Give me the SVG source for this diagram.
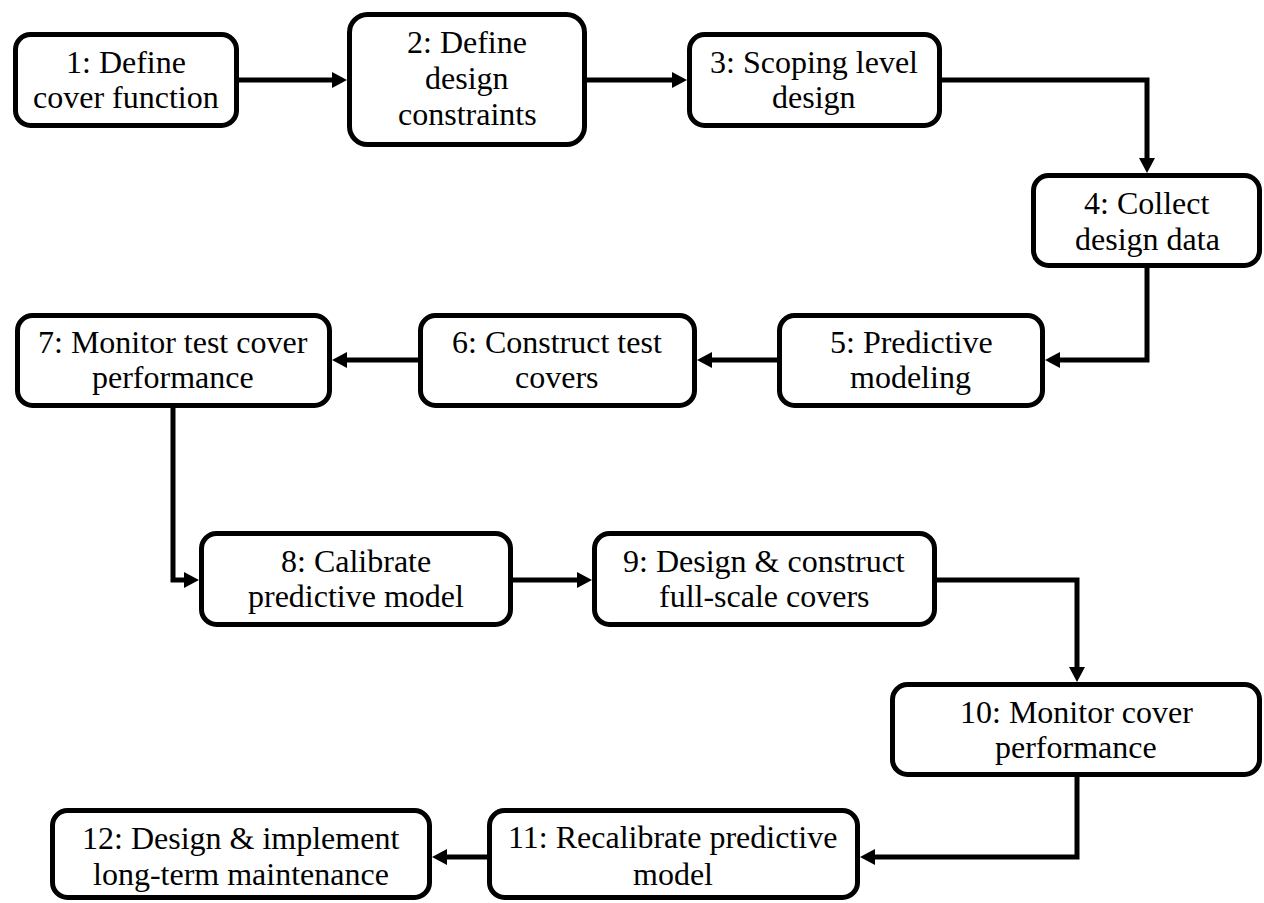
<svg xmlns="http://www.w3.org/2000/svg" width="1264" height="903" viewBox="0 0 1264 903">
<defs>
<marker id="ah" markerUnits="userSpaceOnUse" markerWidth="16" markerHeight="17" refX="5" refY="8" orient="auto" viewBox="0 0 16 17">
<path d="M0,0 L15,8 L0,16 z" fill="#000"/>
</marker>
</defs>
<rect width="1264" height="903" fill="#fff"/>
<g id="connectors" fill="none" stroke="#000" stroke-width="5" marker-end="url(#ah)">
<path d="M239,80 H337"/>
<path d="M587,80 H677"/>
<path d="M942,80 H1147 V163"/>
<path d="M1147,268 V360 H1055"/>
<path d="M777,360 H707"/>
<path d="M418,360 H342"/>
<path d="M173,408 V580 H189"/>
<path d="M513,580 H582"/>
<path d="M937,580 H1077 V672"/>
<path d="M1077,777 V857 H870"/>
<path d="M487,857 H442"/>
</g>
<g id="n1"><rect fill="#fff" stroke="#000" stroke-width="5" x="15.5" y="34.5" width="221" height="91" rx="15"/><text x="66" y="73" font-family="Liberation Serif" font-size="32">1: Define</text><text x="33" y="108" font-family="Liberation Serif" font-size="32">cover function</text></g>
<g id="n2"><rect fill="#fff" stroke="#000" stroke-width="5" x="349.5" y="14.5" width="235" height="130" rx="18"/><text x="407" y="53" font-family="Liberation Serif" font-size="32">2: Define</text><text x="425" y="89" font-family="Liberation Serif" font-size="32">design</text><text x="398" y="125" font-family="Liberation Serif" font-size="32">constraints</text></g>
<g id="n3"><rect fill="#fff" stroke="#000" stroke-width="5" x="689.5" y="34.5" width="250" height="91" rx="15"/><text x="710" y="73" font-family="Liberation Serif" font-size="32">3: Scoping level</text><text x="772" y="108" font-family="Liberation Serif" font-size="32">design</text></g>
<g id="n4"><rect fill="#fff" stroke="#000" stroke-width="5" x="1033.5" y="175.5" width="226" height="90" rx="15"/><text x="1084" y="214" font-family="Liberation Serif" font-size="32">4: Collect</text><text x="1075" y="250" font-family="Liberation Serif" font-size="32">design data</text></g>
<g id="n5"><rect fill="#fff" stroke="#000" stroke-width="5" x="779.5" y="315.5" width="263" height="90" rx="15"/><text x="830" y="353" font-family="Liberation Serif" font-size="32">5: Predictive</text><text x="850" y="388" font-family="Liberation Serif" font-size="32">modeling</text></g>
<g id="n6"><rect fill="#fff" stroke="#000" stroke-width="5" x="420.5" y="315.5" width="274" height="90" rx="15"/><text x="452" y="353" font-family="Liberation Serif" font-size="32">6: Construct test</text><text x="515" y="388" font-family="Liberation Serif" font-size="32">covers</text></g>
<g id="n7"><rect fill="#fff" stroke="#000" stroke-width="5" x="17.5" y="315.5" width="312" height="90" rx="15"/><text x="38" y="353" font-family="Liberation Serif" font-size="32">7: Monitor test cover</text><text x="92" y="388" font-family="Liberation Serif" font-size="32">performance</text></g>
<g id="n8"><rect fill="#fff" stroke="#000" stroke-width="5" x="201.5" y="533.5" width="309" height="91" rx="15"/><text x="281" y="572" font-family="Liberation Serif" font-size="32">8: Calibrate</text><text x="248" y="607" font-family="Liberation Serif" font-size="32">predictive model</text></g>
<g id="n9"><rect fill="#fff" stroke="#000" stroke-width="5" x="594.5" y="533.5" width="340" height="91" rx="15"/><text x="623" y="572" font-family="Liberation Serif" font-size="32">9: Design &amp; construct</text><text x="659" y="607" font-family="Liberation Serif" font-size="32">full-scale covers</text></g>
<g id="n10"><rect fill="#fff" stroke="#000" stroke-width="5" x="892.5" y="684.5" width="367" height="90" rx="15"/><text x="960" y="723" font-family="Liberation Serif" font-size="32">10: Monitor cover</text><text x="995" y="758" font-family="Liberation Serif" font-size="32">performance</text></g>
<g id="n11"><rect fill="#fff" stroke="#000" stroke-width="5" x="489.5" y="810.5" width="368" height="87" rx="15"/><text x="508" y="848" font-family="Liberation Serif" font-size="32">11: Recalibrate predictive</text><text x="633" y="885" font-family="Liberation Serif" font-size="32">model</text></g>
<g id="n12"><rect fill="#fff" stroke="#000" stroke-width="5" x="52.5" y="810.5" width="377" height="87" rx="15"/><text x="82" y="849" font-family="Liberation Serif" font-size="32">12: Design &amp; implement</text><text x="93" y="885" font-family="Liberation Serif" font-size="32">long-term maintenance</text></g>
</svg>
